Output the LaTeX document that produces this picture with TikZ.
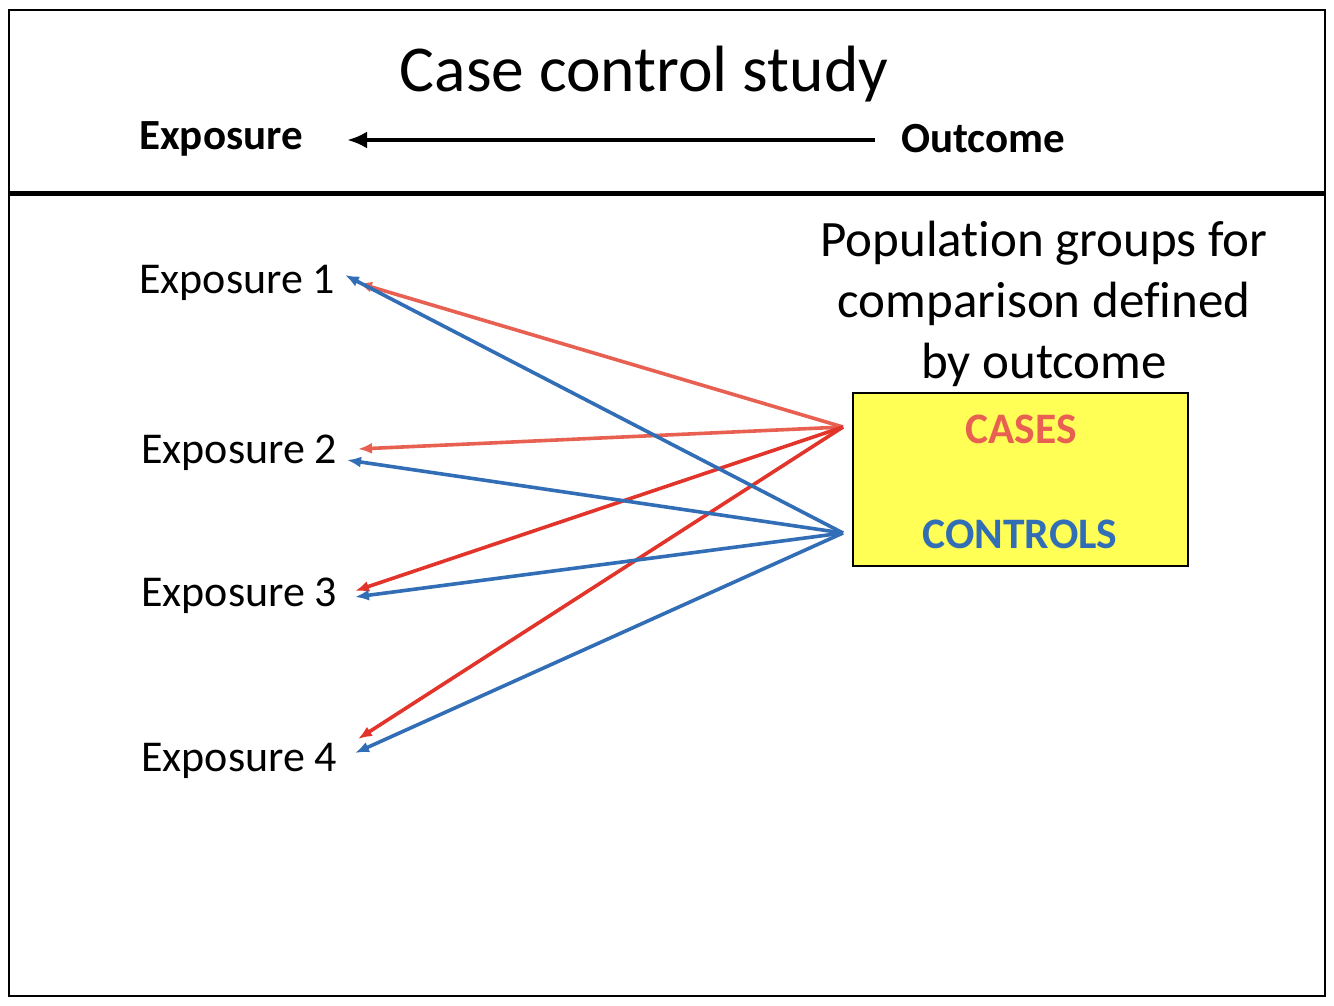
\documentclass[tikz,border=0pt]{standalone}
\usepackage{fontspec}
\setmainfont[Ligatures=NoCommon]{Carlito}
\usetikzlibrary{arrows.meta}
\definecolor{casered}{RGB}{232,96,82}
\definecolor{darkred}{RGB}{226,52,42}
\definecolor{ctrlblue}{RGB}{50,110,182}
\definecolor{boxyellow}{RGB}{255,255,85}
\tikzset{
  lbl/.style={inner sep=0pt, anchor=west, font=\fontsize{44}{50}\selectfont},
  redarr/.style={casered, line width=3.6pt, -{Latex[length=14pt,width=11pt]}},
  dredarr/.style={darkred, line width=3.6pt, -{Latex[length=14pt,width=11pt]}},
  bluearr/.style={ctrlblue, line width=3.6pt, -{Latex[length=14pt,width=11pt]}},
}
\begin{document}
\begin{tikzpicture}[x=1pt,y=-1pt]
\useasboundingbox (0,0) rectangle (1334,1005);
\fill[white] (0,0) rectangle (1334,1005);
% frame
\draw[line width=2.4pt] (9,10) rectangle (1325,996);
\draw[line width=5pt] (9,193) -- (1325,193);
% header
\node[inner sep=0pt, font=\fontsize{65.5}{70}\selectfont] (title) at (644,74) {Case control study};
\node[lbl, font=\fontsize{43}{48}\selectfont\bfseries] (hexp) at (139,139) {Exposure};
\node[lbl, font=\fontsize{43}{48}\selectfont\bfseries] (hout) at (901,139) {Outcome};
\draw[line width=4.5pt, -{Latex[length=20pt,width=17pt]}] (hout.west)++(-26,1) coordinate (ha) -- (347,140) coordinate (hb);
% exposures
\node[lbl] (e1) at (139,283) {Exposure 1};
\node[lbl] (e2) at (141,453) {Exposure 2};
\node[lbl] (e3) at (141,596) {Exposure 3};
\node[lbl] (e4) at (141,761) {Exposure 4};
% population text
\node[inner sep=0pt, align=center, font=\fontsize{51}{61}\selectfont] (pop) at (1044,304) {Population groups for\\comparison defined\\by outcome};
% box
\node[draw=black, line width=1.4pt, fill=boxyellow, minimum width=335pt, minimum height=173pt, inner sep=0pt] (box) at (1020.5,479.5) {};
\node[inner sep=0pt, font=\fontsize{43.5}{50}\selectfont\bfseries, text=casered] (cases) at (1021,429) {CASES};
\node[inner sep=0pt, font=\fontsize{43.5}{50}\selectfont\bfseries, text=ctrlblue] (controls) at (1020,534) {CONTROLS};
% source points
\coordinate (cs) at (843,427);
\coordinate (ct) at (843,533);
% end points
\coordinate (e1r) at (358,283);
\coordinate (e1b) at (345,275);
\coordinate (e2r) at (358,449);
\coordinate (e2b) at (347,460);
\coordinate (e3r) at (355,591);
\coordinate (e3b) at (355,597);
\coordinate (e4r) at (358,739);
\coordinate (e4b) at (355,753);
% arrows
\draw[redarr] (cs) -- (e1r);
\draw[redarr] (cs) -- (e2r);
\draw[dredarr] (cs) -- (e3r);
\draw[dredarr] (cs) -- (e4r);
\draw[bluearr] (ct) -- (e1b);
\draw[bluearr] (ct) -- (e2b);
\draw[bluearr] (ct) -- (e3b);
\draw[bluearr] (ct) -- (e4b);
\end{tikzpicture}
\end{document}
